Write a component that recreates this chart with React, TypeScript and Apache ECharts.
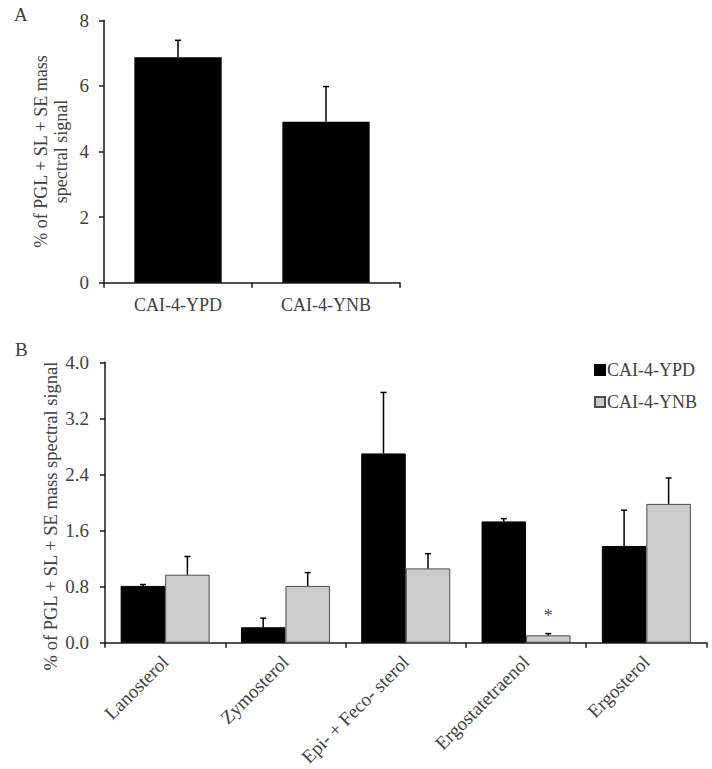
import React, { useEffect, useRef } from "react";
import * as echarts from "echarts";

const catsA = ["CAI-4-YPD", "CAI-4-YNB"];
const valsA = [6.87, 4.91];
const errA = [0.52, 1.07];

const catsB = ["Lanosterol", "Zymosterol", "Epi- + Feco- sterol", "Ergostatetraenol", "Ergosterol"];
const ypdB = [0.81, 0.22, 2.7, 1.73, 1.38];
const ypdErrB = [0.02, 0.13, 0.87, 0.04, 0.51];
const ynbB = [0.97, 0.81, 1.06, 0.105, 1.98];
const ynbErrB = [0.26, 0.19, 0.21, 0.025, 0.37];
const sigB = ["", "", "", "*", ""];
const seriesNames = ["CAI-4-YPD", "CAI-4-YNB"];
const yNameB = "% of PGL + SL + SE mass spectral signal";

const FONT = "'Liberation Serif', 'Times New Roman', serif";
const TXT = "#404040";
const AX = "#1a1a1a";

function errRender(barFrac: number, nGroup: number) {
  return (params: any, api: any) => {
    const idx = api.value(0);
    const v = api.value(1);
    const e = api.value(2);
    const s = api.value(3);
    const mark = sigB[idx] && s === 1 && nGroup === 2 ? sigB[idx] : "";
    const cw = api.size([1, 0])[0];
    const bw = cw * barFrac;
    let off = 0;
    if (nGroup === 2) off = s === 0 ? -bw / 2 : bw / 2;
    const p0 = api.coord([idx, v]);
    const p1 = api.coord([idx, v + e]);
    const x = p0[0] + off;
    const cap = 3;
    const children: any[] = [
      { type: "line", shape: { x1: x, y1: p0[1], x2: x, y2: p1[1] }, style: { stroke: "#000", lineWidth: 1.5 } },
      { type: "line", shape: { x1: x - cap, y1: p1[1], x2: x + cap, y2: p1[1] }, style: { stroke: "#000", lineWidth: 1.5 } },
    ];
    if (mark) {
      children.push({
        type: "text",
        style: { text: mark, x, y: p1[1] - 18, textAlign: "center", textVerticalAlign: "middle", fontSize: 18, fontFamily: FONT, fill: "#555" },
      });
    }
    return { type: "group", children };
  };
}

export default function App() {
  const ref = useRef<HTMLDivElement>(null);
  useEffect(() => {
    document.body.style.margin = "0";
    if (!ref.current) return;
    const chart = echarts.init(ref.current, null, { renderer: "svg" });
    const axisCommon = {
      axisLine: { show: true, lineStyle: { color: AX, width: 1.5 } },
      axisTick: { show: true, length: 5, lineStyle: { color: AX, width: 1.5 } },
      splitLine: { show: false },
    };
    const option: any = {
      animation: false,
      backgroundColor: "#fff",
      textStyle: { fontFamily: FONT, color: TXT },
      graphic: [
        { type: "text", left: 14, top: 5, style: { text: "A", fontSize: 19, fontFamily: FONT, fill: TXT } },
        { type: "text", left: 15, top: 340, style: { text: "B", fontSize: 19, fontFamily: FONT, fill: TXT } },
        {
          type: "text",
          x: 51,
          y: 516,
          rotation: Math.PI / 2,
          style: { text: yNameB, fontSize: 18.5, fontFamily: FONT, fill: TXT, textAlign: "center", textVerticalAlign: "middle" },
        },
      ],
      legend: {
        data: seriesNames,
        orient: "vertical",
        left: 594,
        top: 360,
        itemWidth: 10,
        itemHeight: 10,
        itemGap: 12,
        icon: "rect",
        padding: 0,
        textStyle: { fontSize: 18, fontFamily: FONT, color: TXT, lineHeight: 20, padding: [0, 0, 0, -3] },
      },
      grid: [
        { left: 104, top: 20.3, width: 296, height: 262.4 },
        { left: 105, top: 362.3, width: 601.5, height: 280.4 },
      ],
      xAxis: [
        {
          type: "category",
          gridIndex: 0,
          data: catsA,
          ...axisCommon,
          axisTick: { ...axisCommon.axisTick, alignWithLabel: false, interval: 0 },
          axisLabel: { fontSize: 18, fontFamily: FONT, color: TXT, margin: 13 },
        },
        {
          type: "category",
          gridIndex: 1,
          data: catsB,
          ...axisCommon,
          axisTick: { ...axisCommon.axisTick, alignWithLabel: false, interval: 0 },
          axisLabel: { fontSize: 19, fontFamily: FONT, color: TXT, rotate: 45, margin: 16, interval: 0 },
        },
      ],
      yAxis: [
        {
          type: "value",
          gridIndex: 0,
          min: 0,
          max: 8,
          interval: 2,
          ...axisCommon,
          axisLabel: { fontSize: 19, fontFamily: FONT, color: TXT, margin: 15 },
          name: "% of PGL + SL + SE mass\nspectral signal",
          nameLocation: "middle",
          nameGap: 33,
          nameTextStyle: { fontSize: 18, fontFamily: FONT, color: TXT, lineHeight: 20 },
        },
        {
          type: "value",
          gridIndex: 1,
          min: 0,
          max: 4,
          interval: 0.8,
          ...axisCommon,
          axisLabel: { fontSize: 19, fontFamily: FONT, color: TXT, margin: 16, formatter: (v: number) => v.toFixed(1) },
        },
      ],
      series: [
        { name: "Panel A", type: "bar", xAxisIndex: 0, yAxisIndex: 0, data: valsA, barWidth: "59%", itemStyle: { color: "#000" } },
        { name: "Panel A error", type: "custom", xAxisIndex: 0, yAxisIndex: 0, renderItem: errRender(0.59, 1), data: valsA.map((v, i) => [i, v, errA[i], 0]), z: 5 },
        { name: seriesNames[0], type: "bar", xAxisIndex: 1, yAxisIndex: 1, data: ypdB, barWidth: "37%", barGap: "0%", itemStyle: { color: "#000", borderColor: "#000", borderWidth: 1 } },
        { name: seriesNames[1], type: "bar", xAxisIndex: 1, yAxisIndex: 1, data: ynbB, barWidth: "37%", barGap: "0%", itemStyle: { color: "#cccccc", borderColor: "#4d4d4d", borderWidth: 1 } },
        {
          name: "Panel B error",
          type: "custom",
          xAxisIndex: 1,
          yAxisIndex: 1,
          renderItem: errRender(0.37, 2),
          data: [...ypdB.map((v, i) => [i, v, ypdErrB[i], 0]), ...ynbB.map((v, i) => [i, v, ynbErrB[i], 1])],
          z: 5,
        },
      ],
    };
    chart.setOption(option);
    return () => chart.dispose();
  }, []);
  return <div ref={ref} style={{ width: 712, height: 769 }} />;
}
